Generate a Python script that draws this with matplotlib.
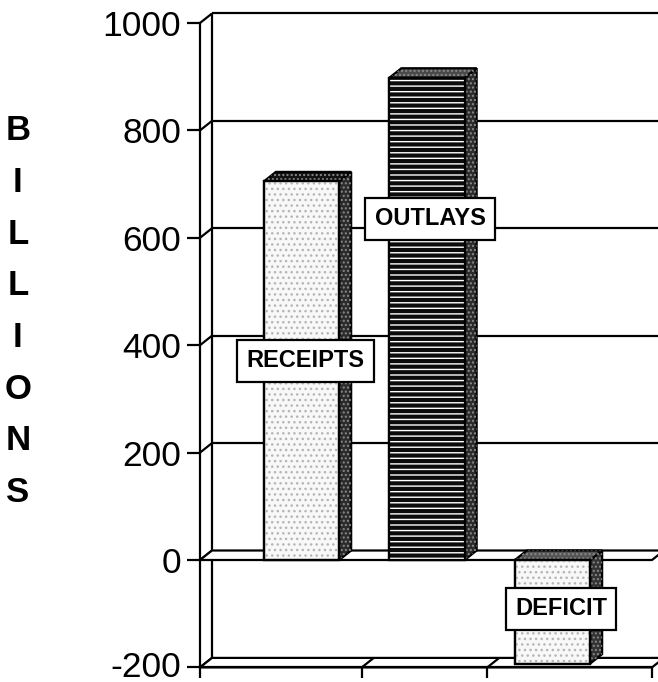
import matplotlib

matplotlib.use("Agg")
import matplotlib.pyplot as plt  # noqa: E402
from matplotlib.patches import Polygon  # noqa: E402

# data (billions)
categories = ["RECEIPTS", "OUTLAYS", "DEFICIT"]
values = [705, 898, -193]
y_ticks = [-200, 0, 200, 400, 600, 800, 1000]
axis_label = "BILLIONS"

# label box centres, relative to each bar (category units, billions)
label_pos = [(0.03, 371), (1.024, 635), (2.068, -91)]

# pseudo-3D geometry
XMIN, XMAX = -0.809, 2.793
YMIN, YMAX = -200, 1000
DX, DY = 0.0956, 17.7      # depth offset in data units
BAR_W = 0.6
CAT_EDGES = [0.48, 1.48]
LW = 1.6

face_styles = [
    # front, front hatch, hatch colour, side, top
    dict(front="#f8f8f8", hatch="...", hcol="#b5b5b5", side="#2b2b2b", top="#111111"),
    dict(front="#0b0b0b", hatch="---", hcol="#ffffff", side="#2b2b2b", top="#4a4a4a"),
    dict(front="#f8f8f8", hatch="...", hcol="#b5b5b5", side="#333333", top="#555555"),
]

plt.rcParams["font.family"] = ["Liberation Sans", "DejaVu Sans"]

fig = plt.figure(figsize=(6.58, 6.82), dpi=100)
ax = fig.add_axes([200 / 658, 0.0214, 452 / 658, 0.9449])
ax.set_xlim(XMIN, XMAX)
ax.set_ylim(YMIN, YMAX)


def poly(pts, fc="white", ec="black", lw=LW, z=2, hatch=None):
    p = Polygon(pts, closed=True, facecolor=fc, edgecolor=ec, linewidth=lw,
                zorder=z, clip_on=False, hatch=hatch)
    ax.add_patch(p)
    return p


def line(xs, ys, z=1):
    ax.plot(xs, ys, color="black", lw=LW, zorder=z, clip_on=False,
            solid_capstyle="butt")


# back wall gridlines and left wall
for v in y_ticks:
    if v > 0:
        line([XMIN + DX, XMAX + DX], [v + DY, v + DY])
    line([XMIN, XMIN + DX], [v, v + DY])
line([XMIN + DX, XMIN + DX], [YMIN + DY, YMAX + DY])

# floors at -200 and 0
for base in (YMIN, 0):
    poly([(XMIN, base), (XMAX, base), (XMAX + DX, base + DY), (XMIN + DX, base + DY)],
         z=1.5)
for xe in CAT_EDGES:
    line([xe, xe + DX], [YMIN, YMIN + DY], z=1.6)

# bars
for i, (v, st) in enumerate(zip(values, face_styles)):
    x0, x1 = i - BAR_W / 2, i + BAR_W / 2
    y0, y1 = min(0, v), max(0, v)
    z = 3 + i * 0.1
    side = [(x1, y0), (x1 + DX, y0 + DY), (x1 + DX, y1 + DY), (x1, y1)]
    top = [(x0, y1), (x0 + DX, y1 + DY), (x1 + DX, y1 + DY), (x1, y1)]
    for face, fc in ((side, st["side"]), (top, st["top"])):
        poly(face, fc=fc, z=z)
        poly(face, fc="none", ec="#8a8a8a", lw=0, z=z + 0.01, hatch="....")
    front = [(x0, y0), (x1, y0), (x1, y1), (x0, y1)]
    poly(front, fc=st["front"], z=z + 0.02)
    poly(front, fc="none", ec=st["hcol"], lw=0, z=z + 0.03, hatch=st["hatch"])
    poly(front, fc="none", z=z + 0.04)

# category labels in boxes
for name, (lx, ly) in zip(categories, label_pos):
    ax.text(lx, ly, name, ha="center", va="center", fontsize=17, fontweight="bold",
            zorder=6, bbox=dict(boxstyle="square,pad=0.4", facecolor="white",
                                edgecolor="black", linewidth=LW))

# axes, ticks
for s in ("top", "right"):
    ax.spines[s].set_visible(False)
for s in ("left", "bottom"):
    ax.spines[s].set_linewidth(LW)
    ax.spines[s].set_zorder(2.5)
ax.set_yticks(y_ticks)
tick_texts = ax.set_yticklabels([str(t) for t in y_ticks])
tick_texts[0].set_va("center")  # keep the lowest label inside the canvas
ax.tick_params(axis="y", length=9.5, width=LW, pad=4, labelsize=25.5)
ax.set_xticks([XMIN] + CAT_EDGES + [XMAX])
ax.set_xticklabels([])
ax.tick_params(axis="x", length=8, width=LW)
ax.patch.set_visible(False)

fig.text(0.027, 0.543, "\n".join(axis_label), ha="center", va="center",
         fontsize=25, fontweight="bold", linespacing=1.72)

fig.savefig("out.png", dpi=100)
plt.close(fig)
